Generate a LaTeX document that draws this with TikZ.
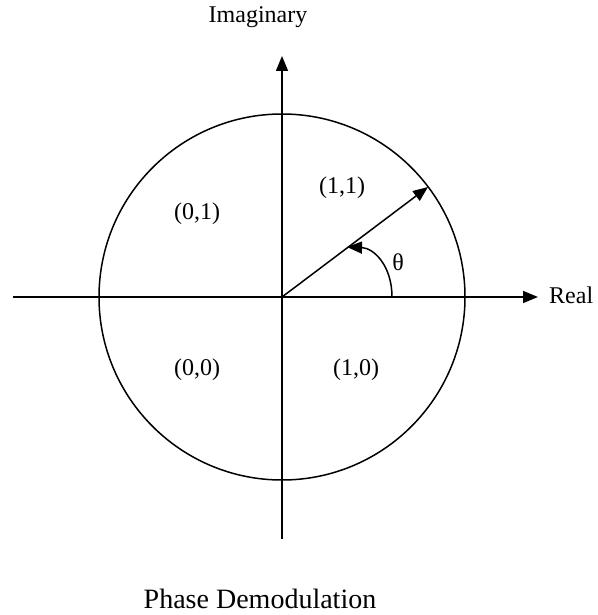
\documentclass[tikz,border=0pt]{standalone}
\usepackage{fontspec}
\setmainfont{Liberation Serif}
\usetikzlibrary{arrows.meta}
\begin{document}
\begin{tikzpicture}[x=1pt,y=-1pt,
  ln/.style={line width=1.5pt},
  tip/.style={-{Triangle[length=15pt,width=12pt]}},
  lbl/.style={font=\fontsize{24}{28}\selectfont, inner sep=0pt},
  ttl/.style={font=\fontsize{28}{32}\selectfont, inner sep=0pt}]
\useasboundingbox (0,0) rectangle (597,615);
\coordinate (O) at (282,297);
\coordinate (L) at (13,297);
\coordinate (R) at (538,297);
\coordinate (T) at (282,56);
\coordinate (B) at (282,539);
\coordinate (V) at (428,187);
\coordinate (A0) at (392,297);
\coordinate (A1) at (347,247);
\draw[ln] (O) circle[radius=183];
\draw[ln,tip] (L) -- (R);
\draw[ln,tip] (B) -- (T);
\draw[ln,tip] (O) -- (V);
\draw[ln,tip] (A0) .. controls (392,266) and (374,248) .. (A1);
\node[lbl] (im) at (258,17) {Imaginary};
\node[lbl,anchor=west] (re) at (549,295) {Real};
\node[lbl] (q11) at (342,188) {(1,1)};
\node[lbl] (q01) at (197,214) {(0,1)};
\node[lbl] (q00) at (197,370) {(0,0)};
\node[lbl] (q10) at (356,370) {(1,0)};
\node[lbl] (th) at (398,262) {θ};
\node[ttl,anchor=base] (title) at (260,608) {Phase Demodulation};
\end{tikzpicture}
\end{document}
